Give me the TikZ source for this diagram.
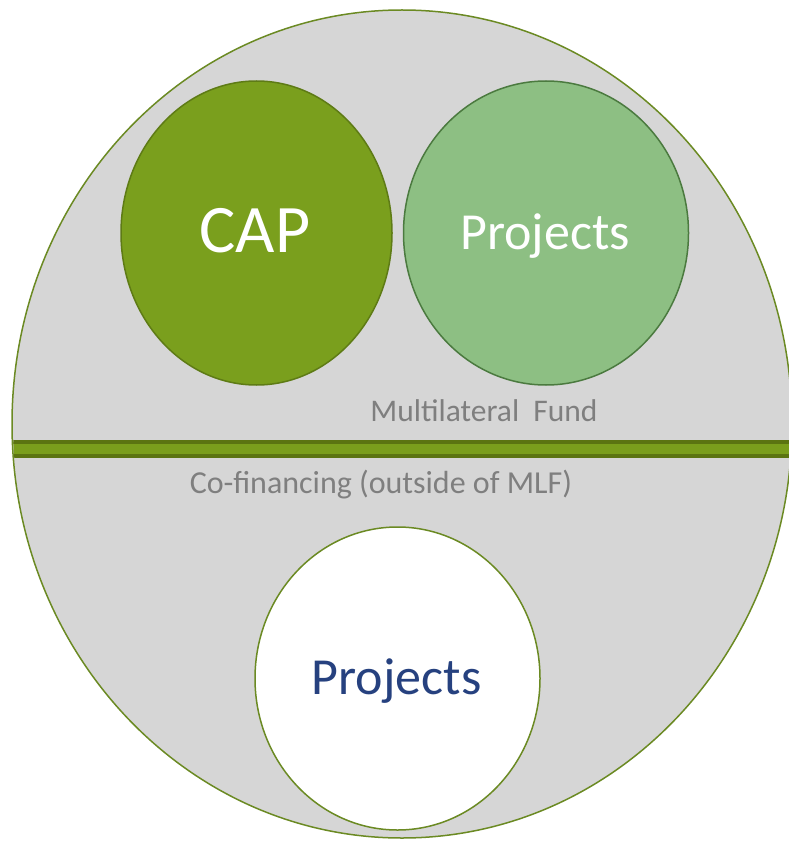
\documentclass[tikz,border=0pt]{standalone}
\usepackage{fontspec}
\setmainfont{Carlito}
\usetikzlibrary{shapes.geometric}
\definecolor{bggray}{HTML}{D6D6D6}
\definecolor{outline}{HTML}{6B8A23}
\definecolor{bardark}{HTML}{5B7411}
\definecolor{barfill}{HTML}{7A9E1C}
\definecolor{capfill}{HTML}{7A9F1D}
\definecolor{capline}{HTML}{5E7B15}
\definecolor{projfill}{HTML}{8DBF83}
\definecolor{projline}{HTML}{4B7A3F}
\definecolor{labelgray}{HTML}{7F7F7F}
\definecolor{navy}{HTML}{26417F}
\begin{document}
\begin{tikzpicture}[x=1pt,y=-1pt,
  blob/.style={ellipse, inner sep=0pt, outer sep=0pt, line width=1.5pt},
  lbl/.style={anchor=base, inner sep=0pt, outer sep=0pt}]
\useasboundingbox (0,0) rectangle (788,842);
% outer ellipse
\node[blob, draw=outline, fill=bggray, minimum width=780pt, minimum height=828pt] (outer) at (402,424) {};
% bar
\begin{scope}
\clip (402,424) ellipse [x radius=389pt, y radius=413pt];
\draw[bardark, fill=barfill, line width=3.7pt] (5,441.8) rectangle (800,455.9);
\end{scope}
% circles
\node[blob, draw=capline, fill=capfill, minimum width=271pt, minimum height=304pt] (cap) at (256.5,233) {};
\node[blob, draw=projline, fill=projfill, minimum width=285pt, minimum height=304pt] (proj) at (546,233) {};
\node[blob, draw=outline, fill=white, minimum width=285pt, minimum height=303pt] (cof) at (397.5,678.5) {};
% texts
\node[lbl, text=white] (captxt) at (255,252.7) {\fontsize{68}{68}\selectfont CAP};
\node[lbl, text=white] (projtxt) at (545,249.3) {\fontsize{52}{52}\selectfont Projects};
\node[lbl, text=navy] (coftxt) at (396.5,694) {\fontsize{52}{52}\selectfont Projects};
\node[lbl, text=labelgray] (mlf) at (484,421.7) {\fontsize{31.5}{31.5}\selectfont Multilateral\ \ Fund};
\node[lbl, text=labelgray] (cofin) at (381,493.3) {\fontsize{32}{32}\selectfont Co-financing (outside of MLF)};
\end{tikzpicture}
\end{document}
